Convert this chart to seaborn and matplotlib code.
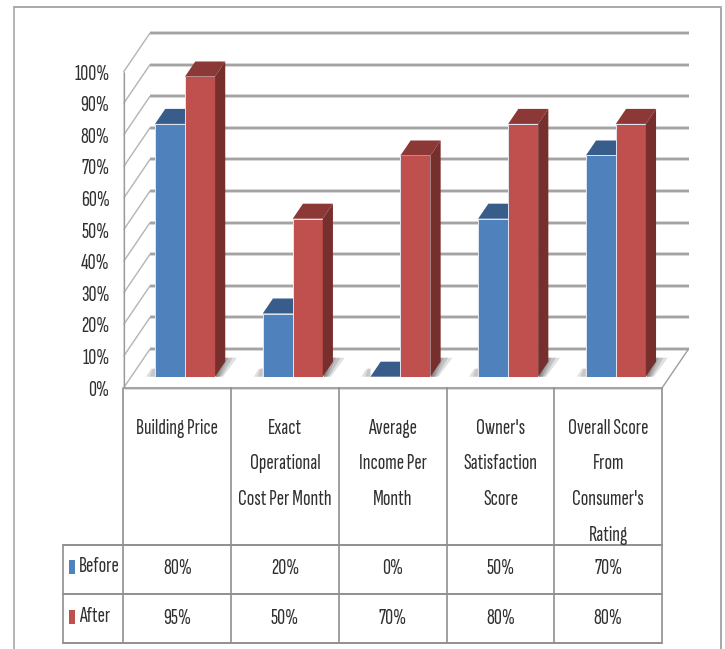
import matplotlib
matplotlib.use("Agg")
import matplotlib.pyplot as plt
import pandas as pd
import seaborn as sns
from matplotlib.patches import Polygon

categories = ["Building Price", "Exact\nOperational\nCost Per Month", "Average\nIncome Per\nMonth",
              "Owner's\nSatisfaction\nScore", "Overall Score\nFrom\nConsumer's\nRating"]
before = [80, 20, 0, 50, 70]
after = [95, 50, 70, 80, 80]
y_ticks = [0, 10, 20, 30, 40, 50, 60, 70, 80, 90, 100]

W, H = 725, 649
FONT = ["Sofia Sans Extra Condensed", "Fira Sans Extra Condensed", "Liberation Sans", "DejaVu Sans"]
FS = 16
TXT = "#303030"
GRID = "#a3a3a3"

sns.set_theme(style="white")
plt.rcParams["font.family"] = FONT

df = pd.DataFrame({"cat": list(range(5)) * 2,
                   "series": ["Before"] * 5 + ["After"] * 5,
                   "value": before + after})

fig = plt.figure(figsize=(W / 100, H / 100), dpi=100, facecolor="white")
ov = fig.add_axes([0, 0, 1, 1], zorder=5)
ov.set_xlim(0, W); ov.set_ylim(H, 0); ov.axis("off"); ov.patch.set_alpha(0)

# main axes: plane of the bar fronts
L, R, B, T = 131.2, 669.7, 376.7, 60.7
ax = fig.add_axes([L / W, 1 - B / H, (R - L) / W, (B - T) / H], zorder=2)
sns.barplot(data=df, x="cat", y="value", hue="series", order=list(range(5)),
            hue_order=["Before", "After"], palette=["#4F81BD", "#C0504D"],
            width=0.557, gap=0, saturation=1, legend=False, ax=ax,
            edgecolor="#dfe6f0", linewidth=0.7, zorder=3)
ax.set_xlim(-0.5, 4.5); ax.set_ylim(0, 100); ax.axis("off")

ux = (R - L) / 5      # px per category
uy = (B - T) / 100    # px per percent
Z0 = 0.29             # depth of the bar fronts


def P(x, y, z):
    return x + (z - Z0) * 26.5 / ux, y + (z - Z0) * 39 / uy


def seg(a, b, lw=1.8, color=GRID, halo=1.2, z=1):
    xs, ys = zip(a, b)
    ax.plot(xs, ys, color="#dcdcdc", lw=lw + halo, clip_on=False, zorder=z, solid_capstyle="butt")
    ax.plot(xs, ys, color=color, lw=lw, clip_on=False, zorder=z + 0.1, solid_capstyle="butt")


for v in y_ticks:
    seg(P(-.5, v, 1), P(4.5, v, 1), lw=1.6)
    seg(P(-.5, v, 0), P(-.5, v, 1), lw=0.7, color="#b0b0b0", halo=0.5)
    x, y = P(-.5, v, 0)
    ax.annotate(f"{v}%", (x, y), xytext=(-14, -2), textcoords="offset pixels",
                ha="right", va="center", fontsize=FS, color=TXT,
                annotation_clip=False, zorder=6)
seg(P(-.5, 0, 0), P(-.5, 100, 0), lw=0.9, color="#999999", halo=0.4)
seg(P(-.5, 0, 0), P(4.5, 0, 0), lw=1.2, color="#999999", halo=1.0)
seg(P(4.5, 0, 0), P(4.5, 0, 1), lw=0.8, color="#999999", halo=0.4)

# bars' depth faces and floor shadows, from the bars seaborn drew
DB = 0.385
for i, p in enumerate(ax.patches):
    x0, x1, h = p.get_x(), p.get_x() + p.get_width(), p.get_height()
    dx, dy = P(0, 0, Z0 + DB)
    red = i >= 5
    zo = 2.8 if not red else 3.2
    top = "#8C3836" if red else "#385D8A"
    side = "#772F2D" if red else "#2C4D75"
    ax.add_patch(Polygon([(x0, h), (x1, h), (x1 + dx, h + dy), (x0 + dx, h + dy)],
                         fc=top, ec="none", clip_on=False, zorder=zo))
    ax.add_patch(Polygon([(x1, 0), (x1, h), (x1 + dx, h + dy), (x1 + dx, dy)],
                         fc=side, ec="none", clip_on=False, zorder=zo))
    if red:
        # soft shadow on the floor, right of the bar
        for g, a in [(1.0, .2), (.8, .25), (.6, .3), (.42, .35), (.25, .35)]:
            ax.add_patch(Polygon([(x1, 0), (x1 + 8 * g / ux, 0),
                                  (x1 + 22 * g / ux, 19 / uy), (x1 + 8 / ux, 19 / uy)],
                                 fc="#666666", ec="none", alpha=a, clip_on=False, zorder=2))
    else:
        for g, a in [(1.0, .3), (.6, .35)]:
            ax.add_patch(Polygon([(x0, 0), (x0 - 9 * g / ux, 0),
                                  (x0 - 4 * g / ux, 8 / uy), (x0, 8 / uy)],
                                 fc="#999999", ec="none", alpha=a, clip_on=False, zorder=2))

# outer frame
ov.plot([14.5, 721, 721], [7, 7, H], color="#a8a8a8", lw=1.4)
ov.plot([14.5, 14.5], [7, H], color="#a8a8a8", lw=1.2)

# data table
edges = [ax.transData.transform((i - .5, 0))[0] - 7.7 for i in range(6)]
TC = "#8f8f8f"
for e in edges:
    ov.plot([e, e], [388, 643], color=TC, lw=1.2)
ov.plot([63, 63], [545, 643], color=TC, lw=1.2)
for y in [545, 594, 643]:
    ov.plot([63, edges[-1]], [y, y], color=TC, lw=1.4)
for i, c in enumerate(categories):
    cx = (edges[i] + edges[i + 1]) / 2
    for j, line in enumerate(c.split("\n")):
        ov.text(cx, 428 + j * 35.8, line, ha="center", va="center", fontsize=FS, color=TXT)
    ov.text(cx, 569, f"{before[i]}%", ha="center", va="center", fontsize=FS, color=TXT)
    ov.text(cx, 618, f"{after[i]}%", ha="center", va="center", fontsize=FS, color=TXT)
for name, col, y in [("Before", "#4F81BD", 567), ("After", "#C0504D", 616.5)]:
    ov.add_patch(Polygon([(69, y - 7), (75.5, y - 7), (75.5, y + 7), (69, y + 7)], fc=col, ec="none"))
    ov.text(79, y, name, ha="left", va="center", fontsize=FS, color=TXT)

fig.savefig("out.png", dpi=100, facecolor="white")
